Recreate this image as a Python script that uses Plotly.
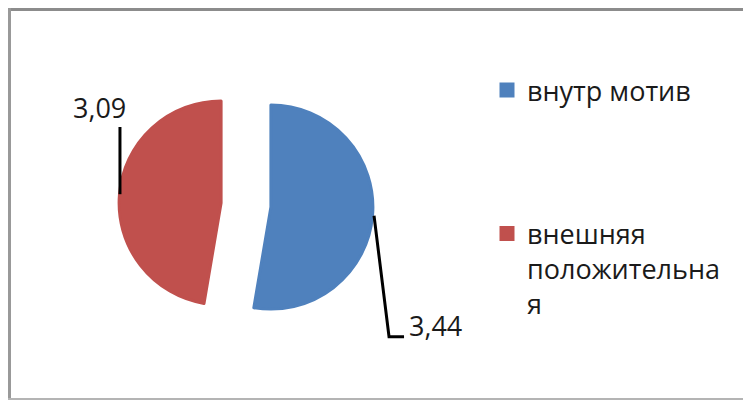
import math
import plotly.graph_objects as go

# Chart data
categories = ["внутр мотив", "внешняя положительная"]
values = [3.44, 3.09]
colors = ["#4F81BD", "#C0504D"]

W, H = 743, 400

# Pie geometry (pixels)
CX, CY = 246.0, 205.0   # centre of the un-pulled pie
R = 102.0               # slice radius
PULL = 0.245            # explode fraction for both slices
STROKE = 3              # slice outline (same colour as fill)


def px(x):
    return x / W


def py(y):
    return 1 - y / H


def wrap(text, limit=12):
    """Break a label into lines of at most `limit` characters."""
    lines, cur = [], ""
    for word in text.split():
        while len(word) > limit:
            if cur:
                lines.append(cur)
                cur = ""
            lines.append(word[:limit])
            word = word[limit:]
        cand = (cur + " " + word).strip()
        if len(cand) > limit and cur:
            lines.append(cur)
            cur = word
        else:
            cur = cand
    if cur:
        lines.append(cur)
    return lines


def fmt(v):
    return f"{v:.2f}".replace(".", ",")


# legend entries: first entry padded with blank lines to set the spacing
legend_lines = [wrap(c) for c in categories]
legend_lines[0] = legend_lines[0] + ["\u00a0"] * (4 - len(legend_lines[0]))
legend_labels = ["<br>".join(l) for l in legend_lines]

half = R * (1 + PULL)
domain_x = [px(CX - half), px(CX + half)]
domain_y = [py(CY + half), py(CY - half)]

fig = go.Figure(
    go.Pie(
        labels=legend_labels,
        values=values,
        customdata=categories,
        sort=False,
        direction="clockwise",
        rotation=0,
        pull=[PULL, PULL],
        textinfo="none",
        hovertemplate="%{customdata}: %{value}<extra></extra>",
        marker=dict(colors=colors, line=dict(color=colors, width=STROKE)),
        domain=dict(x=domain_x, y=domain_y),
    )
)

# leader lines and value labels, anchored on each slice's mid-angle
total = sum(values)
start = 0.0
shapes = []
annotations = []
label_font = dict(size=27, color="#1a1a1a", family="Open Sans")
for i, v in enumerate(values):
    frac = v / total
    mid = (start + frac / 2) * 2 * math.pi
    start += frac
    dx, dy = math.sin(mid), -math.cos(mid)
    ax_ = CX + (half + STROKE / 2) * dx
    ay_ = CY + (half + STROKE / 2) * dy
    if dx < 0:
        # label above the slice, vertical leader
        top = 127
        lx = ax_ + 2
        shapes.append(dict(type="line", xref="paper", yref="paper",
                           x0=px(lx), y0=py(ay_), x1=px(lx), y1=py(top),
                           line=dict(color="#000000", width=3)))
        annotations.append(dict(x=px(lx - 20), y=py(top - 20), xref="paper", yref="paper",
                                xanchor="center", yanchor="middle",
                                text=fmt(v), showarrow=False, font=label_font))
    else:
        # label below-right of the slice, elbow leader
        ex, ey = ax_ + 15, ay_ + 121
        shapes.append(dict(type="path", xref="paper", yref="paper",
                           path=f"M{px(ax_)},{py(ay_)} L{px(ex)},{py(ey)} L{px(ex + 15)},{py(ey)}",
                           line=dict(color="#000000", width=3)))
        annotations.append(dict(x=px(ex + 18), y=py(ey - 11), xref="paper", yref="paper",
                                xanchor="left", yanchor="middle",
                                text=fmt(v), showarrow=False, font=label_font))

# chart-area frame
shapes += [
    dict(type="line", xref="paper", yref="paper", x0=px(8), y0=py(9.5), x1=px(745), y1=py(9.5),
         line=dict(color="#8c8c8c", width=3)),
    dict(type="line", xref="paper", yref="paper", x0=px(9.5), y0=py(8), x1=px(9.5), y1=py(400),
         line=dict(color="#999999", width=3)),
    dict(type="line", xref="paper", yref="paper", x0=px(8), y0=py(399), x1=px(745), y1=py(399),
         line=dict(color="#b4b4b4", width=2)),
]

fig.update_layout(
    width=W,
    height=H,
    margin=dict(l=0, r=0, t=0, b=0),
    paper_bgcolor="white",
    plot_bgcolor="white",
    separators=", ",
    shapes=shapes,
    annotations=annotations,
    showlegend=True,
    legend=dict(
        x=px(487), y=py(66), xanchor="left", yanchor="top",
        valign="top",
        font=dict(size=27, color="#1a1a1a", family="Open Sans"),
        bgcolor="rgba(0,0,0,0)",
    ),
)

fig.write_html("out.html")
